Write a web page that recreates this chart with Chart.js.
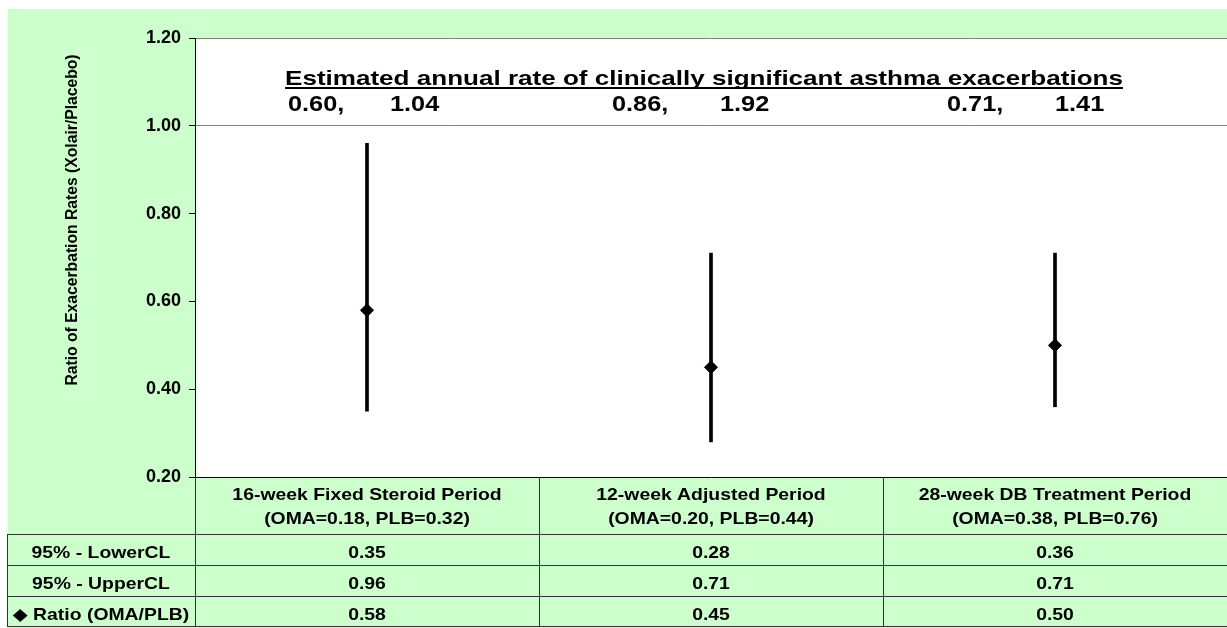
<!DOCTYPE html>
<html>
<head>
<meta charset="utf-8">
<script src="https://cdn.jsdelivr.net/npm/chart.js@4"></script>
<style>
  html, body { margin: 0; padding: 0; background: #ffffff; }
  canvas { display: block; }
</style>
</head>
<body>
<canvas id="ratioChart" width="1227" height="628"></canvas>
<script>
// valores
const periodos = ['16-week Fixed Steroid Period', '12-week Adjusted Period', '28-week DB Treatment Period'];
const taxasPeriodo = ['(OMA=0.18, PLB=0.32)', '(OMA=0.20, PLB=0.44)', '(OMA=0.38, PLB=0.76)'];
const lowerCL = [0.35, 0.28, 0.36];
const upperCL = [0.96, 0.71, 0.71];
const ratio = [0.58, 0.45, 0.50];
const taxaAnualA = ['0.60,', '0.86,', '0.71,'];
const taxaAnualB = ['1.04', '1.92', '1.41'];
const linhasTabela = ['95% - LowerCL', '95% - UpperCL', '\u25C6 Ratio (OMA/PLB)'];

const FONTE = '"Liberation Sans", Arial, "DejaVu Sans", sans-serif';
const VERDE = '#ccffcc';

// texto esticado na horizontal (o original está mais largo que Arial normal)
function texto(ctx, s, x, y, size, sx, align) {
    ctx.save();
    ctx.font = `bold ${size}px ${FONTE}`;
    ctx.textAlign = 'left';
    ctx.textBaseline = 'alphabetic';
    ctx.fillStyle = '#000';
    const w = ctx.measureText(s).width * sx;
    const x0 = align === 'center' ? x - w / 2 : (align === 'right' ? x - w : x);
    ctx.translate(x0, y);
    ctx.scale(sx, 1);
    ctx.fillText(s, 0, 0);
    ctx.restore();
    return { x0, w };
}

const fundoPlugin = {
    id: 'fundo',
    beforeDraw(chart) {
        const { ctx, chartArea } = chart;
        ctx.save();
        ctx.fillStyle = '#ffffff';
        ctx.fillRect(0, 0, chart.width, chart.height);
        ctx.fillStyle = VERDE;
        ctx.fillRect(8, 9, chart.width - 8, chart.height - 9);
        ctx.fillStyle = '#ffffff';
        ctx.fillRect(chartArea.left, chartArea.top, chartArea.right - chartArea.left, chartArea.bottom - chartArea.top);
        ctx.restore();
    }
};

const tabelaPlugin = {
    id: 'tabela',
    afterDraw(chart) {
        const { ctx, chartArea } = chart;
        const x = chart.scales.x;
        const centros = periodos.map((p, i) => x.getPixelForValue(i));
        const meia = (centros[1] - centros[0]) / 2;
        const topo = chartArea.bottom;
        const linhas = [534, 565, 596, 626];
        const esq = 7;
        const dir = chart.width;

        ctx.save();
        ctx.strokeStyle = '#333333';
        ctx.lineWidth = 1;
        ctx.beginPath();
        linhas.forEach(y => {
            ctx.moveTo(esq, y + 0.5);
            ctx.lineTo(dir, y + 0.5);
        });
        ctx.moveTo(esq + 0.5, linhas[0]);
        ctx.lineTo(esq + 0.5, linhas[3]);
        ctx.moveTo(chartArea.left + 0.5, topo);
        ctx.lineTo(chartArea.left + 0.5, linhas[3]);
        for (let i = 1; i < centros.length; i++) {
            const xb = Math.round(centros[i] - meia) + 0.5;
            ctx.moveTo(xb, topo);
            ctx.lineTo(xb, linhas[3]);
        }
        ctx.stroke();
        ctx.restore();

        // cabeçalho com os períodos
        centros.forEach((cx, i) => {
            texto(ctx, periodos[i], cx, 500, 17, 1.14, 'center');
            texto(ctx, taxasPeriodo[i], cx, 524, 17, 1.14, 'center');
        });

        // linhas de valores
        const series = [lowerCL, upperCL, ratio];
        series.forEach((serie, r) => {
            const yb = 558 + r * 31;
            texto(ctx, linhasTabela[r], (esq + chartArea.left) / 2, yb, 17, 1.14, 'center');
            serie.forEach((v, i) => {
                texto(ctx, v.toFixed(2), centros[i], yb, 17, 1.14, 'center');
            });
        });

        // título dentro da área do gráfico
        const t = texto(ctx, 'Estimated annual rate of clinically significant asthma exacerbations', 704, 85, 21, 1.24, 'center');
        ctx.save();
        ctx.fillStyle = '#000';
        ctx.fillRect(t.x0, 87, t.w, 2);
        ctx.restore();

        const posTaxas = [[288, 390], [612, 720], [947, 1055]];
        posTaxas.forEach((p, i) => {
            texto(ctx, taxaAnualA[i], p[0], 111, 22, 1.15, 'left');
            texto(ctx, taxaAnualB[i], p[1], 111, 22, 1.15, 'left');
        });

        // título do eixo y
        ctx.save();
        ctx.translate(73, 220);
        ctx.rotate(-Math.PI / 2);
        ctx.scale(0.98, 1);
        ctx.font = `bold 16px ${FONTE}`;
        ctx.fillStyle = '#000';
        ctx.textAlign = 'center';
        ctx.textBaseline = 'middle';
        ctx.fillText('Ratio of Exacerbation Rates (Xolair/Placebo)', 0, 0);
        ctx.restore();
    }
};

const ctxRatio = document.getElementById('ratioChart').getContext('2d');
new Chart(ctxRatio, {
    data: {
        labels: periodos,
        datasets: [
            {
                type: 'bar',
                label: '95% CL',
                data: lowerCL.map((v, i) => [v, upperCL[i]]),
                backgroundColor: '#000000',
                borderWidth: 0,
                barThickness: 3,
                order: 2
            },
            {
                type: 'line',
                label: 'Ratio (OMA/PLB)',
                data: ratio,
                showLine: false,
                pointStyle: 'rectRot',
                pointRadius: 6.5,
                pointBorderWidth: 1,
                pointBackgroundColor: '#000000',
                pointBorderColor: '#000000',
                order: 1
            }
        ]
    },
    options: {
        responsive: false,
        animation: false,
        devicePixelRatio: 1,
        layout: { autoPadding: false, padding: { top: 38, bottom: 151, left: 0, right: 0 } },
        plugins: {
            legend: { display: false },
            title: { display: false },
            tooltip: { enabled: false }
        },
        scales: {
            x: {
                type: 'category',
                offset: true,
                grid: { display: false },
                ticks: { display: false },
                border: { display: true, color: '#000000', width: 1 },
                afterFit(scale) { scale.height = 0; }
            },
            y: {
                min: 0.2,
                max: 1.2,
                ticks: {
                    stepSize: 0.2,
                    padding: 8,
                    color: '#000000',
                    font: { family: FONTE, size: 18, weight: 'bold' },
                    callback: v => Number(v).toFixed(2)
                },
                grid: {
                    color: c => (c.tick && c.tick.value > 0.99) ? '#808080' : 'rgba(0,0,0,0)',
                    tickColor: '#000000',
                    tickLength: 6,
                    lineWidth: 1
                },
                border: { display: true, color: '#000000', width: 1 },
                afterFit(scale) { scale.width = 195; }
            }
        }
    },
    plugins: [fundoPlugin, tabelaPlugin]
});
</script>
</body>
</html>
